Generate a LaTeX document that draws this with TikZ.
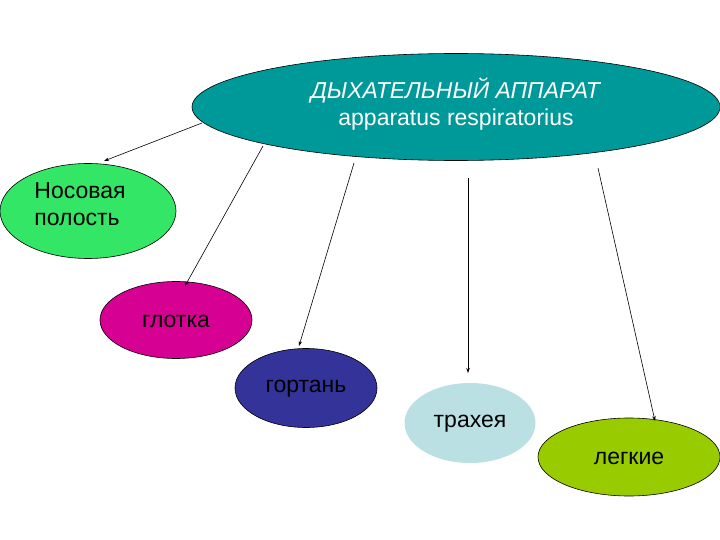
\documentclass[tikz,border=0pt]{standalone}
\usepackage{fontspec}
\setmainfont{Liberation Sans}
\usetikzlibrary{shapes.geometric,arrows.meta}
\definecolor{mainteal}{RGB}{0,153,153}
\definecolor{nosgreen}{RGB}{51,230,102}
\definecolor{glmag}{RGB}{214,0,147}
\definecolor{gorblue}{RGB}{51,51,153}
\definecolor{trlight}{RGB}{187,224,227}
\definecolor{legreen}{RGB}{153,204,0}
\tikzset{
  organ/.style={ellipse, draw=black, line width=0.6pt, inner sep=0pt},
  lbl/.style={font=\fontsize{23}{27}\selectfont},
  conn/.style={line width=0.6pt, -{Stealth[length=5pt,width=3.5pt]}}
}
\begin{document}
\begin{tikzpicture}[x=1pt,y=-1pt]
\useasboundingbox (0,0) rectangle (720,540);
\node[organ, fill=mainteal, minimum width=528pt, minimum height=107pt] (main) at (456,107) {};
\node[lbl, text=white, align=center] (maint) at (456,104)
  {\textit{ДЫХАТЕЛЬНЫЙ АППАРАТ}\\apparatus respiratorius};
\node[organ, fill=nosgreen, minimum width=176pt, minimum height=95pt] (nos) at (88,211) {};
\node[lbl, align=left] (nost) at (80,204) {Носовая\\полость};
\node[organ, fill=glmag, minimum width=152pt, minimum height=77pt] (gl) at (176,320) {};
\node[lbl] (glt) at (176,321) {глотка};
\node[organ, fill=gorblue, minimum width=142pt, minimum height=79pt] (gor) at (306,388) {};
\node[lbl] (gort) at (306,389) {гортань};
\node[organ, draw=none, fill=trlight, minimum width=131pt, minimum height=80pt] (tr) at (470,423) {};
\node[lbl] (trt) at (470,424) {трахея};
\node[organ, fill=legreen, minimum width=182pt, minimum height=78pt] (le) at (629,457) {};
\node[lbl] (let) at (629,458) {легкие};
\coordinate (s1) at (202,123); \coordinate (e1) at (104,161);
\coordinate (s2) at (263,146); \coordinate (e2) at (185,286);
\coordinate (s3) at (354,163); \coordinate (e3) at (299,346);
\coordinate (s4) at (468,178); \coordinate (e4) at (468,373);
\coordinate (s5) at (598,168); \coordinate (e5) at (655,421);
\draw[conn] (s1) -- (e1);
\draw[conn] (s2) -- (e2);
\draw[conn] (s3) -- (e3);
\draw[conn] (s4) -- (e4);
\draw[conn] (s5) -- (e5);
\end{tikzpicture}
\end{document}
